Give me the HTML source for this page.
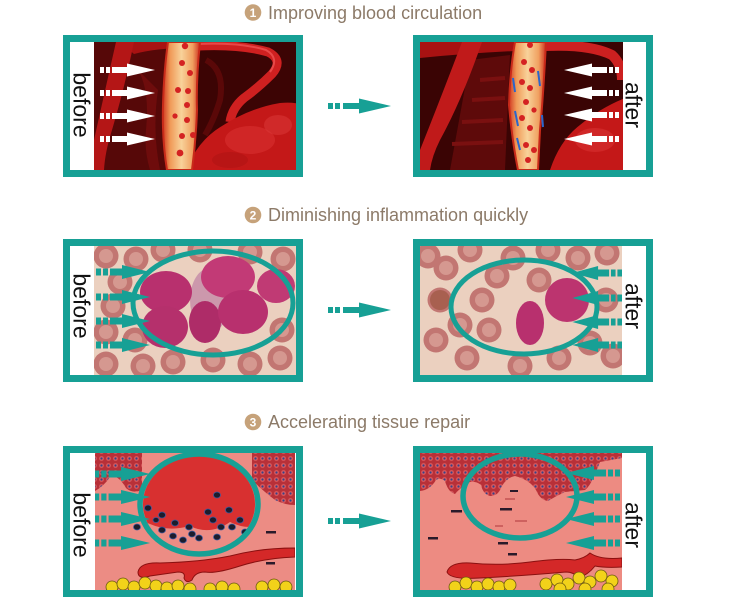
<!DOCTYPE html>
<html><head><meta charset="utf-8"><style>
html,body{margin:0;padding:0;background:#fff;}
svg{display:block;}
</style></head><body>
<svg width="750" height="597" viewBox="0 0 750 597" xmlns="http://www.w3.org/2000/svg">
<defs>
  <linearGradient id="gOr" x1="0" y1="0" x2="1" y2="0">
    <stop offset="0" stop-color="#d23a22"/>
    <stop offset="0.2" stop-color="#f09a58"/>
    <stop offset="0.5" stop-color="#f8d29a"/>
    <stop offset="0.8" stop-color="#f0a060"/>
    <stop offset="1" stop-color="#cc3020"/>
  </linearGradient>
  <pattern id="gran" width="7" height="7" patternUnits="userSpaceOnUse">
    <rect width="7" height="7" fill="#b83038"/>
    <circle cx="3.5" cy="3.5" r="2.4" fill="#d85a5e"/>
    <circle cx="3.5" cy="3.5" r="1.1" fill="#34438a"/>
  </pattern>
  <g id="aw">
    <rect x="0" y="-3" width="4" height="6"/>
    <rect x="6" y="-3" width="4" height="6"/>
    <rect x="12" y="-3" width="17" height="6"/>
    <polygon points="27,-6.5 55,0 27,6.5"/>
  </g>
  <g id="at">
    <rect x="0" y="-3.5" width="5" height="7"/>
    <rect x="7" y="-3.5" width="5" height="7"/>
    <rect x="14" y="-3.5" width="14" height="7"/>
    <polygon points="26,-7 54,0 26,7"/>
  </g>
  <g id="am">
    <rect x="0" y="-3" width="5" height="6"/>
    <rect x="7" y="-3" width="5" height="6"/>
    <rect x="15" y="-3" width="18" height="6"/>
    <polygon points="31,-7.5 63,0 31,7.5"/>
  </g>
  <g id="cell">
    <circle r="12.5" fill="#c27672"/>
    <circle r="7" fill="#d59890"/>
  </g>
  <g id="fat">
    <circle r="6" fill="#f2d21a" stroke="#6a5a10" stroke-width="0.8"/>
  </g>
  <clipPath id="c1l"><rect x="94" y="42" width="202" height="128"/></clipPath>
  <clipPath id="c1r"><rect x="420" y="42" width="203" height="128"/></clipPath>
  <clipPath id="c2l"><rect x="94" y="246" width="202" height="129"/></clipPath>
  <clipPath id="c2r"><rect x="420" y="246" width="202" height="129"/></clipPath>
  <clipPath id="c3l"><rect x="95" y="453" width="200" height="137"/></clipPath>
  <clipPath id="c3r"><rect x="420" y="453" width="202" height="137"/></clipPath>
  <clipPath id="e3l"><ellipse cx="199" cy="504" rx="56" ry="48"/></clipPath>
</defs>

<!-- TITLES -->
<g font-family="'Liberation Sans', sans-serif">
  <circle cx="253" cy="12.5" r="8.3" fill="#c6a27a"/>
  <text x="253" y="17" font-size="12" font-weight="bold" fill="#fff" text-anchor="middle">1</text>
  <text x="268" y="19" font-size="18" fill="#8c7a68">Improving blood circulation</text>

  <circle cx="253" cy="215" r="8.3" fill="#c6a27a"/>
  <text x="253" y="219.5" font-size="12" font-weight="bold" fill="#fff" text-anchor="middle">2</text>
  <text x="268" y="221" font-size="18" fill="#8c7a68">Diminishing inflammation quickly</text>

  <circle cx="253" cy="422" r="8.3" fill="#c6a27a"/>
  <text x="253" y="426.5" font-size="12" font-weight="bold" fill="#fff" text-anchor="middle">3</text>
  <text x="268" y="428" font-size="18" fill="#8c7a68">Accelerating tissue repair</text>
</g>

<!-- FRAMES -->
<g fill="#17a095">
  <rect x="63" y="35" width="240" height="142"/>
  <rect x="413" y="35" width="240" height="142"/>
  <rect x="63" y="239" width="240" height="143"/>
  <rect x="413" y="239" width="240" height="143"/>
  <rect x="63" y="446" width="240" height="151"/>
  <rect x="413" y="446" width="240" height="151"/>
</g>
<g fill="#fff">
  <rect x="70" y="42" width="226" height="128"/>
  <rect x="420" y="42" width="226" height="128"/>
  <rect x="70" y="246" width="226" height="129"/>
  <rect x="420" y="246" width="226" height="129"/>
  <rect x="70" y="453" width="226" height="137"/>
  <rect x="420" y="453" width="226" height="137"/>
</g>

<!-- PANEL 1 LEFT -->
<g clip-path="url(#c1l)">
  <rect x="94" y="42" width="202" height="128" fill="#3c0404"/>
  <rect x="94" y="42" width="72" height="128" fill="#560808"/>
  <path d="M120,42 L200,42 L200,48 Q160,47 134,54 Z" fill="#a81212"/>
  <path d="M116,42 L134,42 Q124,90 112,130 Q105,152 104,170 L94,170 L94,140 Q104,95 116,42Z" fill="#b41616"/>
  <path d="M138,70 Q150,90 146,130 Q144,150 150,170 L160,170 Q152,130 158,90 Z" fill="#6e0c0c"/>
  <path d="M206,60 Q225,70 220,100 Q214,120 205,135" fill="none" stroke="#5a0808" stroke-width="6"/>
  <path d="M198,46 Q240,44 268,52 Q284,60 272,74 Q258,88 244,98 Q232,108 230,122" fill="none" stroke="#cf2020" stroke-width="9"/>
  <path d="M198,44 Q240,42 266,50 Q280,58 270,72" fill="none" stroke="#e84848" stroke-width="2"/>
  <path d="M186,170 Q198,140 222,126 Q250,108 280,103 Q292,102 300,104 L300,170 Z" fill="#c41818"/>
  <ellipse cx="250" cy="140" rx="25" ry="14" fill="#d83030" opacity="0.6"/>
  <ellipse cx="278" cy="125" rx="14" ry="10" fill="#dc3a3a" opacity="0.5"/>
  <ellipse cx="230" cy="160" rx="18" ry="8" fill="#b01414" opacity="0.6"/>
  <path d="M168,42 L200,42 Q196,80 197,110 Q196,140 192,170 L167,170 Q162,140 163,105 Q164,70 168,42Z" fill="url(#gOr)" stroke="#c82a1a" stroke-width="2"/>
  <g fill="#d42222">
    <circle cx="185" cy="46" r="3.2"/><circle cx="182" cy="63" r="3"/><circle cx="190" cy="73" r="3"/>
    <circle cx="178" cy="90" r="3"/><circle cx="188" cy="91" r="3"/><circle cx="187" cy="105" r="3"/>
    <circle cx="175" cy="116" r="2.6"/><circle cx="187" cy="120" r="3"/><circle cx="182" cy="136" r="3"/>
    <circle cx="193" cy="135" r="3"/><circle cx="180" cy="153" r="3.4"/>
  </g>
  <g fill="#fff">
    <use href="#aw" transform="translate(100,70)"/>
    <use href="#aw" transform="translate(100,93)"/>
    <use href="#aw" transform="translate(100,116)"/>
    <use href="#aw" transform="translate(100,139)"/>
  </g>
</g>

<!-- PANEL 1 RIGHT -->
<g clip-path="url(#c1r)">
  <rect x="420" y="42" width="203" height="128" fill="#3a0404"/>
  <path d="M470,60 L510,55 L505,170 L450,170Z" fill="#5e0a0a"/>
  <path d="M420,42 L540,42 L540,50 Q480,52 420,58Z" fill="#a81212"/>
  <path d="M462,42 L482,42 Q462,100 440,140 Q432,156 430,170 L418,170 L420,150 Q440,100 462,42Z" fill="#c01a1a"/>
  <path d="M480,80 L505,78 M472,100 L505,98 M462,122 L503,120 M452,144 L503,142" stroke="#7a1010" stroke-width="4"/>
  <path d="M545,46 Q590,44 612,55 Q622,64 622,80" fill="none" stroke="#cc2020" stroke-width="10"/>
  <path d="M550,170 Q560,140 580,125 Q600,108 625,98 L625,170Z" fill="#c41818"/>
  <ellipse cx="595" cy="140" rx="20" ry="12" fill="#d83232" opacity="0.6"/>
  <path d="M515,42 L546,42 Q543,100 540,130 Q539,150 538,170 L518,170 Q512,140 509,105 Q510,70 515,42Z" fill="url(#gOr)" stroke="#c82a1a" stroke-width="2"/>
  <g fill="#d42222">
    <circle cx="530" cy="45" r="3"/><circle cx="524" cy="62" r="3"/><circle cx="532" cy="70" r="3"/>
    <circle cx="522" cy="82" r="3"/><circle cx="530" cy="88" r="3"/><circle cx="526" cy="102" r="3"/>
    <circle cx="534" cy="110" r="2.6"/><circle cx="522" cy="118" r="3"/><circle cx="530" cy="128" r="3"/>
    <circle cx="526" cy="145" r="3"/><circle cx="534" cy="150" r="3"/><circle cx="528" cy="160" r="3"/>
  </g>
  <g stroke="#2a66cc" stroke-width="2" fill="none">
    <path d="M513,78 L515,92"/><path d="M515,111 L518,126"/><path d="M517,138 L520,150"/>
    <path d="M538,71 L540,86"/><path d="M542,115 L543,127"/>
  </g>
  <g fill="#fff">
    <use href="#aw" transform="translate(619,70) scale(-1,1)"/>
    <use href="#aw" transform="translate(619,93) scale(-1,1)"/>
    <use href="#aw" transform="translate(619,115) scale(-1,1)"/>
    <use href="#aw" transform="translate(619,139) scale(-1,1)"/>
  </g>
</g>

<!-- PANEL 2 LEFT -->
<g clip-path="url(#c2l)">
  <rect x="94" y="246" width="202" height="129" fill="#ebd0bf"/>
  <use href="#cell" x="106" y="256"/><use href="#cell" x="136" y="259"/><use href="#cell" x="163" y="250"/>
  <use href="#cell" x="113" y="306"/><use href="#cell" x="106" y="332"/><use href="#cell" x="106" y="364"/>
  <use href="#cell" x="143" y="366"/><use href="#cell" x="173" y="362"/><use href="#cell" x="213" y="360"/>
  <use href="#cell" x="250" y="364"/><use href="#cell" x="280" y="358"/><use href="#cell" x="283" y="259"/>
  <use href="#cell" x="282" y="330"/><use href="#cell" x="250" y="252"/><use href="#cell" x="120" y="282"/>
  <use href="#cell" x="200" y="250"/><use href="#cell" x="135" y="340"/>
  <ellipse cx="210" cy="300" rx="20" ry="32" fill="#cc98ac"/>
  <ellipse cx="166" cy="292" rx="26" ry="21" fill="#b8306e"/>
  <ellipse cx="165" cy="327" rx="23" ry="21" fill="#b5306c"/>
  <ellipse cx="205" cy="322" rx="16" ry="21" fill="#ae2c68"/>
  <ellipse cx="228" cy="277" rx="27" ry="21" fill="#c23a76"/>
  <ellipse cx="243" cy="312" rx="25" ry="22" fill="#b8306e"/>
  <ellipse cx="276" cy="286" rx="19" ry="17" fill="#c03a74"/>
  <ellipse cx="213" cy="303" rx="80" ry="52" fill="none" stroke="#17a095" stroke-width="5"/>
  <g fill="#17a095">
    <use href="#at" transform="translate(96,272)"/>
    <use href="#at" transform="translate(96,297)"/>
    <use href="#at" transform="translate(96,321)"/>
    <use href="#at" transform="translate(96,345)"/>
  </g>
</g>

<!-- PANEL 2 RIGHT -->
<g clip-path="url(#c2r)">
  <rect x="420" y="246" width="202" height="129" fill="#ebd0bf"/>
  <use href="#cell" x="428" y="256"/><use href="#cell" x="446" y="268"/><use href="#cell" x="440" y="300"/>
  <use href="#cell" x="436" y="340"/><use href="#cell" x="467" y="358"/><use href="#cell" x="489" y="330"/>
  <use href="#cell" x="482" y="300"/><use href="#cell" x="497" y="276"/><use href="#cell" x="539" y="280"/>
  <use href="#cell" x="513" y="258"/><use href="#cell" x="578" y="258"/><use href="#cell" x="607" y="253"/>
  <use href="#cell" x="613" y="356"/><use href="#cell" x="559" y="358"/><use href="#cell" x="590" y="343"/>
  <use href="#cell" x="520" y="366"/><use href="#cell" x="470" y="250"/><use href="#cell" x="606" y="300"/>
  <use href="#cell" x="548" y="250"/><use href="#cell" x="460" y="325"/>
  <circle cx="440" cy="300" r="10" fill="#a86050"/>
  <ellipse cx="530" cy="323" rx="14" ry="22" fill="#b8306e"/>
  <ellipse cx="567" cy="300" rx="22" ry="22" fill="#bc346f"/>
  <ellipse cx="524" cy="307" rx="73" ry="47" fill="none" stroke="#17a095" stroke-width="5"/>
  <g fill="#17a095">
    <use href="#at" transform="translate(622,273) scale(-0.92,1)"/>
    <use href="#at" transform="translate(622,298) scale(-0.92,1)"/>
    <use href="#at" transform="translate(622,322) scale(-0.92,1)"/>
    <use href="#at" transform="translate(622,345) scale(-0.92,1)"/>
  </g>
</g>

<!-- PANEL 3 LEFT -->
<g clip-path="url(#c3l)">
  <rect x="95" y="453" width="200" height="137" fill="#ec8c84"/>
  <path d="M95,453 L142,453 L142,490 Q132,494 126,488 Q118,474 110,477 Q104,486 95,491Z" fill="url(#gran)"/>
  <path d="M252,453 L295,453 L295,505 Q285,505 275,500 Q262,490 252,480Z" fill="url(#gran)"/>
  <g clip-path="url(#e3l)">
    <path d="M130,450 L270,450 L270,522 Q250,532 230,522 Q210,536 190,526 Q168,532 150,524 Q140,520 130,522Z" fill="#d83030"/>
  </g>
  <g fill="#1c1c2c" stroke="#3a5aa0" stroke-width="0.8">
    <ellipse cx="148" cy="508" rx="3.5" ry="3"/><ellipse cx="162" cy="515" rx="3.5" ry="3"/>
    <ellipse cx="175" cy="523" rx="3.5" ry="3"/><ellipse cx="189" cy="527" rx="3.5" ry="3"/>
    <ellipse cx="192" cy="534" rx="3.5" ry="3"/><ellipse cx="208" cy="512" rx="3.5" ry="3"/>
    <ellipse cx="217" cy="495" rx="3.5" ry="3"/><ellipse cx="213" cy="520" rx="3.5" ry="3"/>
    <ellipse cx="221" cy="527" rx="3.5" ry="3"/><ellipse cx="229" cy="510" rx="3.5" ry="3"/>
    <ellipse cx="232" cy="527" rx="3.5" ry="3"/><ellipse cx="240" cy="520" rx="3.5" ry="3"/>
    <ellipse cx="162" cy="530" rx="3.5" ry="3"/><ellipse cx="137" cy="527" rx="3.5" ry="3"/>
    <ellipse cx="183" cy="540" rx="3.5" ry="3"/><ellipse cx="199" cy="538" rx="3.5" ry="3"/>
    <ellipse cx="173" cy="536" rx="3.5" ry="3"/><ellipse cx="217" cy="537" rx="3.5" ry="3"/>
    <ellipse cx="245" cy="532" rx="3.5" ry="3"/><ellipse cx="156" cy="520" rx="3" ry="2.5"/>
  </g>
  <g fill="#2a1a2a"><rect x="266" y="531" width="10" height="2.5"/><rect x="267" y="551" width="8" height="2.5"/><rect x="266" y="562" width="9" height="2.5"/></g>
  <path d="M138,572 Q140,562 160,563 Q200,562 230,556 Q260,548 295,548 L295,557 Q265,558 240,566 Q215,574 205,572 Q195,572 192,580 Q186,584 184,578 Q186,572 178,572 L150,576 Q138,580 138,572Z" fill="#d42828" stroke="#8a1010" stroke-width="1"/>
  <g>
    <use href="#fat" x="112" y="587"/><use href="#fat" x="123" y="584"/><use href="#fat" x="134" y="587"/>
    <use href="#fat" x="145" y="583"/><use href="#fat" x="156" y="586"/><use href="#fat" x="167" y="588"/>
    <use href="#fat" x="178" y="586"/><use href="#fat" x="190" y="589"/><use href="#fat" x="210" y="589"/>
    <use href="#fat" x="222" y="587"/><use href="#fat" x="234" y="589"/><use href="#fat" x="262" y="587"/>
    <use href="#fat" x="274" y="585"/><use href="#fat" x="286" y="587"/>
  </g>
  <ellipse cx="199" cy="504" rx="59" ry="50" fill="none" stroke="#17a095" stroke-width="5.5"/>
  <g fill="#17a095">
    <use href="#at" transform="translate(94,474) scale(1.04,1)"/>
    <use href="#at" transform="translate(94,497) scale(1.04,1)"/>
    <use href="#at" transform="translate(94,519) scale(1.04,1)"/>
    <use href="#at" transform="translate(94,543) scale(1.04,1)"/>
  </g>
</g>

<!-- PANEL 3 RIGHT -->
<g clip-path="url(#c3r)">
  <rect x="420" y="453" width="202" height="137" fill="#ed8b82"/>
  <path d="M420,453 L622,453 L622,458 L600,462 Q596,472 593,478 Q590,486 585,490 L565,492 Q556,496 548,501 Q540,500 536,490 Q530,480 515,476 Q505,478 500,490 Q497,496 490,496 Q483,494 481,485 Q476,481 470,482 Q462,486 455,494 Q448,492 445,481 Q440,477 436,480 Q430,490 420,491Z" fill="url(#gran)"/>
  <g fill="#2a1a2a">
    <rect x="451" y="510" width="11" height="2.5"/><rect x="428" y="537" width="10" height="2.5"/>
    <rect x="500" y="508" width="12" height="2.5"/><rect x="498" y="542" width="10" height="2.5"/>
    <rect x="508" y="553" width="9" height="2.5"/><rect x="510" y="490" width="8" height="2"/>
  </g>
  <g fill="#c05050" opacity="0.7">
    <rect x="505" y="498" width="10" height="2"/><rect x="515" y="520" width="12" height="2"/><rect x="495" y="525" width="8" height="2"/>
  </g>
  <path d="M447,572 Q450,562 470,563 Q500,566 530,562 Q560,558 575,560 Q585,558 590,553 Q600,560 622,558 L622,567 Q605,568 595,566 Q588,575 578,578 Q574,572 566,572 Q520,576 480,578 Q450,580 447,572Z" fill="#d42828" stroke="#8a1010" stroke-width="1"/>
  <g>
    <use href="#fat" x="455" y="587"/><use href="#fat" x="466" y="583"/><use href="#fat" x="477" y="587"/>
    <use href="#fat" x="488" y="584"/><use href="#fat" x="499" y="587"/><use href="#fat" x="510" y="585"/>
    <use href="#fat" x="546" y="584"/><use href="#fat" x="557" y="580"/><use href="#fat" x="568" y="584"/>
    <use href="#fat" x="579" y="578"/><use href="#fat" x="590" y="582"/><use href="#fat" x="601" y="576"/>
    <use href="#fat" x="612" y="581"/><use href="#fat" x="560" y="589"/><use href="#fat" x="585" y="589"/><use href="#fat" x="608" y="589"/>
  </g>
  <ellipse cx="520" cy="496" rx="57" ry="42" fill="none" stroke="#17a095" stroke-width="5.5"/>
  <g fill="#17a095">
    <use href="#at" transform="translate(620,473) scale(-1,1)"/>
    <use href="#at" transform="translate(620,497) scale(-1,1)"/>
    <use href="#at" transform="translate(620,519) scale(-1,1)"/>
    <use href="#at" transform="translate(620,543) scale(-1,1)"/>
  </g>
</g>

<!-- MIDDLE ARROWS -->
<g fill="#17a095">
  <use href="#am" transform="translate(328,106)"/>
  <use href="#am" transform="translate(328,310)"/>
  <use href="#am" transform="translate(328,521)"/>
</g>

<!-- before / after labels -->
<g font-family="'Liberation Sans', sans-serif" font-size="23" fill="#111" text-anchor="middle">
  <text transform="translate(73.5,105) rotate(90)">before</text>
  <text transform="translate(625.5,105) rotate(90)">after</text>
  <text transform="translate(73.5,306) rotate(90)">before</text>
  <text transform="translate(625.5,306) rotate(90)">after</text>
  <text transform="translate(73.5,525) rotate(90)">before</text>
  <text transform="translate(625.5,525) rotate(90)">after</text>
</g>
</svg>
</body></html>
